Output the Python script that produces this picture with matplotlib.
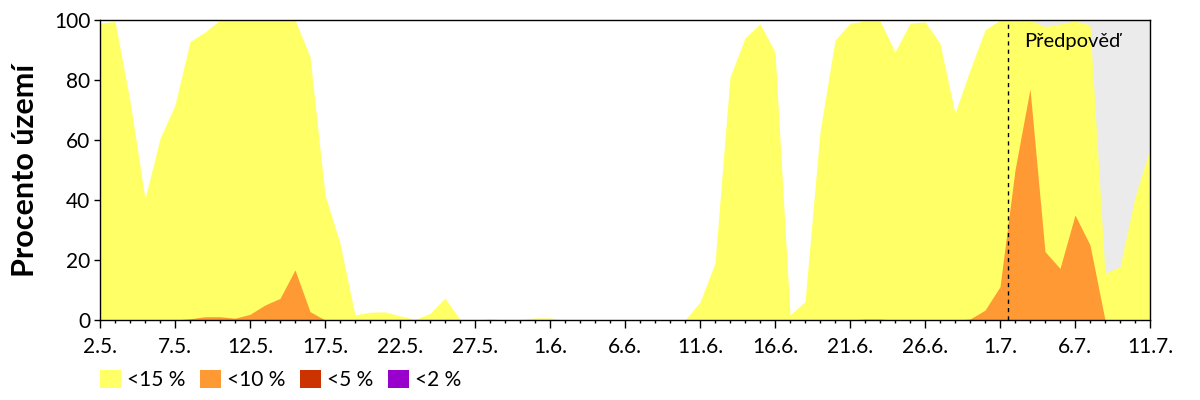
import matplotlib
matplotlib.use("Agg")
import matplotlib.pyplot as plt
from matplotlib.patches import Patch
from matplotlib.ticker import MultipleLocator

plt.rcParams['font.family'] = ['Lato', 'DejaVu Sans']

# Days since 2.5. (0 .. 70)
days = list(range(71))

yellow_15 = [99, 99.5, 73, 40.5, 60.5, 71.7, 92.8, 96, 100, 100,
             100, 100, 100, 100, 87.8, 41.7, 25.6, 1.7, 2.6, 2.7,
             1.4, 0.2, 2.2, 7.3, 0.2, 0, 0.5, 0, 0.2, 0.7,
             0.7, 0, 0, 0.2, 0, 0, 0, 0, 0, 0,
             6, 19, 81, 94, 98.7, 89.4, 1.7, 6.1, 62.8, 93.3,
             98.9, 99.7, 99.7, 89.4, 98.9, 99.4, 92.2, 68.9, 83.3, 96.7,
             100, 100, 100, 97.8, 98.7, 99.7, 98.3, 15.6, 17.8, 41,
             57.2]

orange_10 = [0, 0, 0, 0, 0, 0, 0.4, 1.1, 1.1, 0.6,
             1.9, 5, 7.2, 16.7, 2.8, 0, 0, 0, 0, 0,
             0, 0, 0, 0, 0, 0, 0, 0, 0, 0,
             0, 0, 0, 0, 0, 0, 0, 0, 0, 0,
             0, 0, 0, 0, 0, 0, 0, 0, 0, 0,
             0, 0.3, 0.3, 0, 0, 0, 0, 0, 0.3, 3.3,
             11.1, 50, 77, 22.8, 17.2, 35, 25, 0, 0, 0,
             0]

red_5 = [0, 0, 0, 0, 0, 0, 0, 0, 0, 0,
         0, 0, 0, 0, 0, 0, 0, 0, 0, 0,
         0, 0, 0, 0, 0, 0, 0, 0, 0, 0,
         0, 0, 0, 0, 0, 0, 0, 0, 0, 0,
         0, 0, 0, 0, 0, 0, 0, 0, 0, 0,
         0, 0, 0, 0, 0, 0, 0, 0, 0, 0,
         0, 0, 0, 0, 0, 0, 0, 0, 0, 0,
         0]

purple_2 = [0, 0, 0, 0, 0, 0, 0, 0, 0, 0,
            0, 0, 0, 0, 0, 0, 0, 0, 0, 0,
            0, 0, 0, 0, 0, 0, 0, 0, 0, 0,
            0, 0, 0, 0, 0, 0, 0, 0, 0, 0,
            0, 0, 0, 0, 0, 0, 0, 0, 0, 0,
            0, 0, 0, 0, 0, 0, 0, 0, 0, 0,
            0, 0, 0, 0, 0, 0, 0, 0, 0, 0,
            0]

tick_labels = ["2.5.", "7.5.", "12.5.", "17.5.", "22.5.", "27.5.", "1.6.",
               "6.6.", "11.6.", "16.6.", "21.6.", "26.6.", "1.7.", "6.7.", "11.7."]
forecast_start = 60.5

series_labels = ["<15 %", "<10 %", "<5 %", "<2 %"]
colors = ["#FFFF66", "#FF9933", "#CC3300", "#9900CC"]

fig = plt.figure(figsize=(12, 4), dpi=100)
ax = fig.add_axes([100/1200, 80/400, 1050/1200, 300/400])

ax.axvspan(forecast_start, days[-1], color="#EBEBEB", lw=0, zorder=0)
for vals, c in zip([yellow_15, orange_10, red_5, purple_2], colors):
    ax.fill_between(days, 0, vals, color=c, lw=0, zorder=2)
ax.axvline(forecast_start, color="black", lw=1, ls=(0, (3, 3)), zorder=3)
ax.text(forecast_start + 1.1, 93, "Předpověď", fontsize=14.5, va="center", ha="left", zorder=4)

ax.set_xlim(0, 70)
ax.set_ylim(0, 100)
ax.set_xticks(range(0, 71, 5))
ax.set_xticklabels(tick_labels)
ax.xaxis.set_minor_locator(MultipleLocator(1))
ax.set_yticks(range(0, 101, 20))
ax.tick_params(axis="x", which="major", length=6, width=1, labelsize=15, pad=6)
ax.tick_params(axis="x", which="minor", length=2.5, width=1)
ax.tick_params(axis="y", which="major", length=4, width=1, labelsize=15, pad=3)
for s in ax.spines.values():
    s.set_linewidth(1)
    s.set_zorder(5)
ax.set_ylabel("Procento území", fontsize=22, fontweight="bold", labelpad=11)

handles = [Patch(facecolor=c, edgecolor="none") for c in colors]
fig.legend(handles, series_labels, loc="center left", bbox_to_anchor=(100/1200, 20/400),
           ncol=4, frameon=False, fontsize=15, handlelength=1.0, handleheight=1.0,
           handletextpad=0.3, columnspacing=0.7, borderpad=0, borderaxespad=0)

fig.savefig("out.png", dpi=100)
